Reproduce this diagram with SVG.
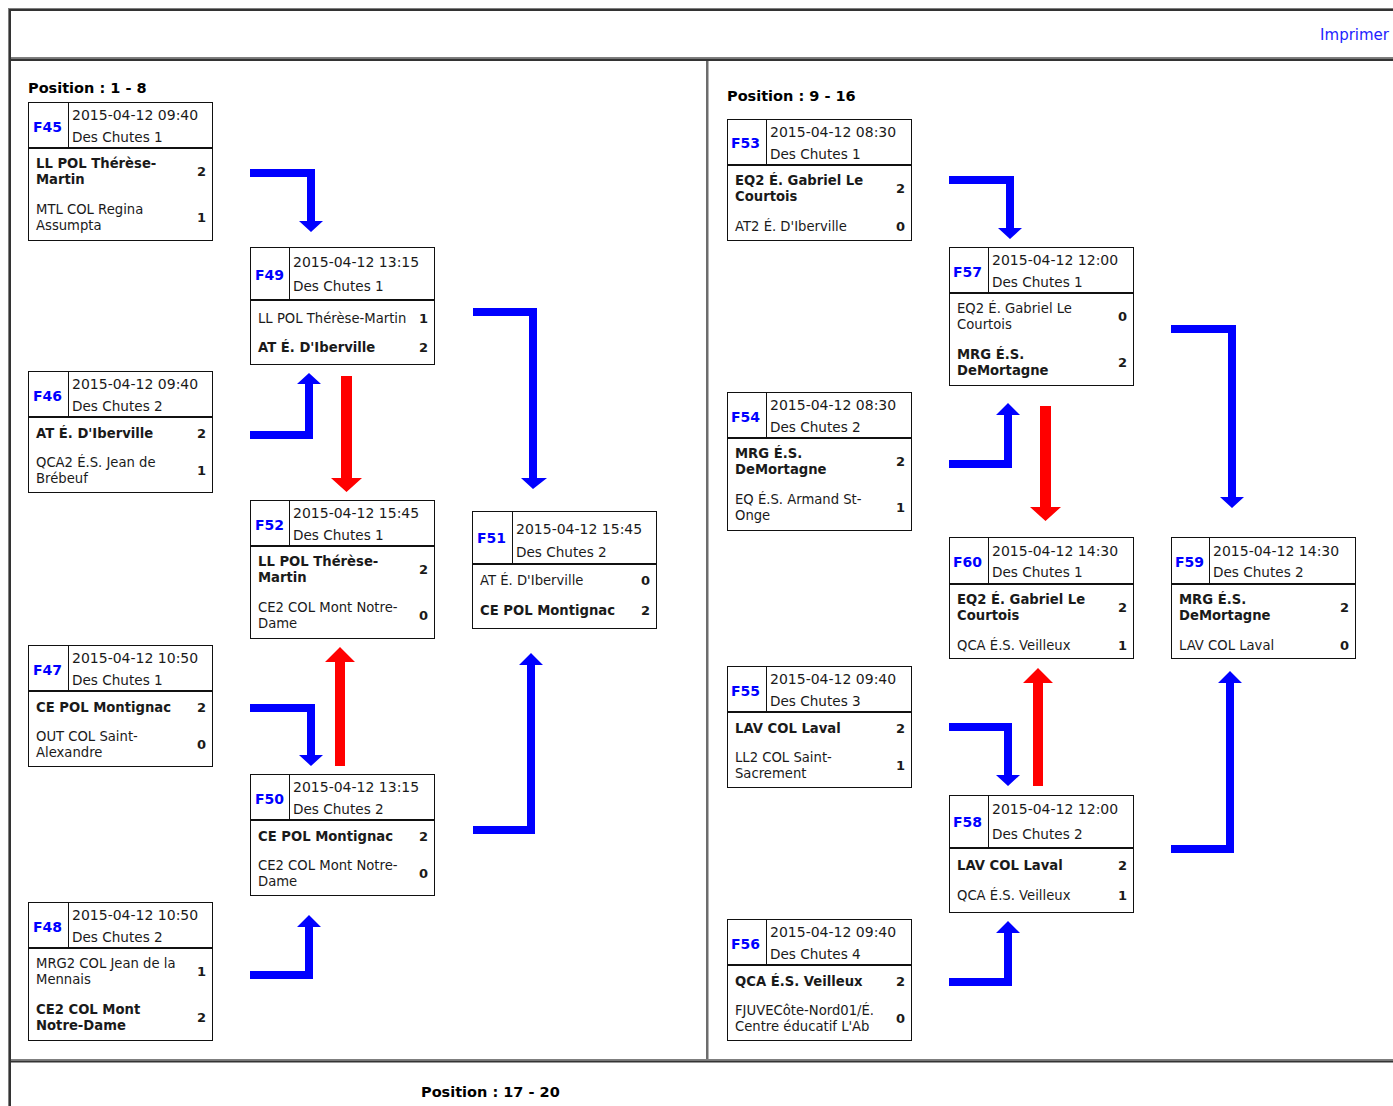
<svg xmlns="http://www.w3.org/2000/svg" width="1393" height="1106" viewBox="0 0 1393 1106">
<style>
text{font-family:Verdana,"DejaVu Sans",sans-serif;fill:#1a1a1a}
.hd{font-size:14px}
.hv{font-size:13.6px}
.tm{font-size:13.2px}
.b{font-weight:bold}
.sc{font-size:13px;font-weight:bold;text-anchor:end}
.id{font-size:14px;font-weight:bold;fill:#0000ff}
.pos{font-size:14.5px;font-weight:bold;fill:#000}
.bx{fill:#fff;stroke:#111;stroke-width:1}
.ln{stroke:#111;stroke-width:1}
.dv{stroke:#111;stroke-width:2}
.blue{fill:#0000ff}
.red{fill:#ff0000}
.g{fill:#7f7f7f}
.d{fill:#333}
</style>
<rect width="1393" height="1106" fill="#fff"/>
<g id="frame">
<rect class="g" x="8" y="8" width="1385" height="1"/>
<rect class="d" x="8" y="9" width="1385" height="2"/>
<rect class="g" x="8" y="8" width="1" height="1098"/>
<rect class="d" x="9" y="9" width="2" height="1097"/>
<rect class="g" x="11" y="57" width="1382" height="1.5"/>
<rect class="d" x="11" y="58.5" width="1382" height="2.5"/>
<rect fill="#6d6d6d" x="706" y="61" width="2.5" height="999"/>
<rect class="g" x="11" y="1059" width="1382" height="1.5"/>
<rect class="d" x="11" y="1060.5" width="1382" height="2"/>
<text x="1389" y="40" style="font-size:15px;fill:#2323ff;text-anchor:end">Imprimer</text>
<text class="pos" x="28" y="93">Position : 1 - 8</text>
<text class="pos" x="727" y="101">Position : 9 - 16</text>
<text class="pos" x="421" y="1097">Position : 17 - 20</text>
</g>
<g id="connectors">
<polygon class="blue" points="250,169 315,169 315,221 323,221 311,232 299,221 307,221 307,177 250,177"/>
<polygon class="blue" points="250,439 313,439 313,384 321,384 309,373 297,384 305,384 305,431 250,431"/>
<polygon class="red" points="341,376 352,376 352,478 362,478 346.5,492 331,478 341,478"/>
<polygon class="blue" points="250,704 315,704 315,755 323,755 311,766 299,755 307,755 307,712 250,712"/>
<polygon class="red" points="335,766 345,766 345,662 355,662 340,647 325,662 335,662"/>
<polygon class="blue" points="250,979 313,979 313,927 321,927 309,915 297,927 305,927 305,971 250,971"/>
<polygon class="blue" points="473,308 537,308 537,478 547,478 533,489 521,478 529,478 529,316 473,316"/>
<polygon class="blue" points="473,834 535,834 535,665 543,665 531,653 519,665 527,665 527,826 473,826"/>
<polygon class="blue" points="949,176 1014,176 1014,228 1022,228 1010,239 998,228 1006,228 1006,184 949,184"/>
<polygon class="blue" points="949,468 1012,468 1012,415 1020,415 1008,403 996,415 1004,415 1004,460 949,460"/>
<polygon class="red" points="1040,406 1051,406 1051,507 1061,507 1045.5,521 1030,507 1040,507"/>
<polygon class="blue" points="949,723 1012,723 1012,775 1020,775 1008,786 996,775 1004,775 1004,731 949,731"/>
<polygon class="red" points="1033,786 1043,786 1043,683 1053,683 1038,668 1023,683 1033,683"/>
<polygon class="blue" points="949,986 1012,986 1012,933 1020,933 1008,921 996,933 1004,933 1004,978 949,978"/>
<polygon class="blue" points="1171,325 1236,325 1236,497 1244,497 1232,508 1220,497 1228,497 1228,333 1171,333"/>
<polygon class="blue" points="1171,853 1234,853 1234,683 1242,683 1230,671 1218,683 1226,683 1226,845 1171,845"/>
</g>

<g id="F45">
<rect class="bx" x="28.5" y="102.5" width="184" height="138"/>
<line class="ln" x1="68.5" y1="102.5" x2="68.5" y2="148"/>
<line class="dv" x1="28.5" y1="148" x2="212.5" y2="148"/>
<text class="id" x="33" y="132">F45</text>
<text class="hd" x="72" y="120">2015-04-12 09:40</text>
<text class="hv" x="72" y="142">Des Chutes 1</text>
<text class="tm b" x="36" y="168">LL POL Thérèse-</text>
<text class="tm b" x="36" y="184">Martin</text>
<text class="sc" x="206" y="176">2</text>
<text class="tm" x="36" y="214">MTL COL Regina</text>
<text class="tm" x="36" y="230">Assumpta</text>
<text class="sc" x="206" y="222">1</text>
</g>
<g id="F46">
<rect class="bx" x="28.5" y="371.5" width="184" height="121"/>
<line class="ln" x1="68.5" y1="371.5" x2="68.5" y2="417"/>
<line class="dv" x1="28.5" y1="417" x2="212.5" y2="417"/>
<text class="id" x="33" y="401">F46</text>
<text class="hd" x="72" y="389">2015-04-12 09:40</text>
<text class="hv" x="72" y="411">Des Chutes 2</text>
<text class="tm b" x="36" y="438">AT É. D'Iberville</text>
<text class="sc" x="206" y="438">2</text>
<text class="tm" x="36" y="467">QCA2 É.S. Jean de</text>
<text class="tm" x="36" y="483">Brébeuf</text>
<text class="sc" x="206" y="475">1</text>
</g>
<g id="F47">
<rect class="bx" x="28.5" y="645.5" width="184" height="121"/>
<line class="ln" x1="68.5" y1="645.5" x2="68.5" y2="691"/>
<line class="dv" x1="28.5" y1="691" x2="212.5" y2="691"/>
<text class="id" x="33" y="675">F47</text>
<text class="hd" x="72" y="663">2015-04-12 10:50</text>
<text class="hv" x="72" y="685">Des Chutes 1</text>
<text class="tm b" x="36" y="712">CE POL Montignac</text>
<text class="sc" x="206" y="712">2</text>
<text class="tm" x="36" y="741">OUT COL Saint-</text>
<text class="tm" x="36" y="757">Alexandre</text>
<text class="sc" x="206" y="749">0</text>
</g>
<g id="F48">
<rect class="bx" x="28.5" y="902.5" width="184" height="138"/>
<line class="ln" x1="68.5" y1="902.5" x2="68.5" y2="948"/>
<line class="dv" x1="28.5" y1="948" x2="212.5" y2="948"/>
<text class="id" x="33" y="932">F48</text>
<text class="hd" x="72" y="920">2015-04-12 10:50</text>
<text class="hv" x="72" y="942">Des Chutes 2</text>
<text class="tm" x="36" y="968">MRG2 COL Jean de la</text>
<text class="tm" x="36" y="984">Mennais</text>
<text class="sc" x="206" y="976">1</text>
<text class="tm b" x="36" y="1014">CE2 COL Mont</text>
<text class="tm b" x="36" y="1030">Notre-Dame</text>
<text class="sc" x="206" y="1022">2</text>
</g>

<g id="F49">
<rect class="bx" x="250.5" y="247.5" width="184" height="117"/>
<line class="ln" x1="289.5" y1="247.5" x2="289.5" y2="300"/>
<line class="dv" x1="250.5" y1="300" x2="434.5" y2="300"/>
<text class="id" x="255" y="280">F49</text>
<text class="hd" x="293" y="267">2015-04-12 13:15</text>
<text class="hv" x="293" y="291">Des Chutes 1</text>
<text class="tm" x="258" y="323">LL POL Thérèse-Martin</text>
<text class="sc" x="428" y="323">1</text>
<text class="tm b" x="258" y="352">AT É. D'Iberville</text>
<text class="sc" x="428" y="352">2</text>
</g>
<g id="F52">
<rect class="bx" x="250.5" y="500.5" width="184" height="138"/>
<line class="ln" x1="289.5" y1="500.5" x2="289.5" y2="546"/>
<line class="dv" x1="250.5" y1="546" x2="434.5" y2="546"/>
<text class="id" x="255" y="530">F52</text>
<text class="hd" x="293" y="518">2015-04-12 15:45</text>
<text class="hv" x="293" y="540">Des Chutes 1</text>
<text class="tm b" x="258" y="566">LL POL Thérèse-</text>
<text class="tm b" x="258" y="582">Martin</text>
<text class="sc" x="428" y="574">2</text>
<text class="tm" x="258" y="612">CE2 COL Mont Notre-</text>
<text class="tm" x="258" y="628">Dame</text>
<text class="sc" x="428" y="620">0</text>
</g>
<g id="F50">
<rect class="bx" x="250.5" y="774.5" width="184" height="121"/>
<line class="ln" x1="289.5" y1="774.5" x2="289.5" y2="820"/>
<line class="dv" x1="250.5" y1="820" x2="434.5" y2="820"/>
<text class="id" x="255" y="804">F50</text>
<text class="hd" x="293" y="792">2015-04-12 13:15</text>
<text class="hv" x="293" y="814">Des Chutes 2</text>
<text class="tm b" x="258" y="841">CE POL Montignac</text>
<text class="sc" x="428" y="841">2</text>
<text class="tm" x="258" y="870">CE2 COL Mont Notre-</text>
<text class="tm" x="258" y="886">Dame</text>
<text class="sc" x="428" y="878">0</text>
</g>
<g id="F51">
<rect class="bx" x="472.5" y="511.5" width="184" height="117"/>
<line class="ln" x1="512.5" y1="511.5" x2="512.5" y2="564"/>
<line class="dv" x1="472.5" y1="564" x2="656.5" y2="564"/>
<text class="id" x="477" y="543">F51</text>
<text class="hd" x="516" y="534">2015-04-12 15:45</text>
<text class="hv" x="516" y="557">Des Chutes 2</text>
<text class="tm" x="480" y="585">AT É. D'Iberville</text>
<text class="sc" x="650" y="585">0</text>
<text class="tm b" x="480" y="615">CE POL Montignac</text>
<text class="sc" x="650" y="615">2</text>
</g>

<g id="F53">
<rect class="bx" x="727.5" y="119.5" width="184" height="121"/>
<line class="ln" x1="766.5" y1="119.5" x2="766.5" y2="165"/>
<line class="dv" x1="727.5" y1="165" x2="911.5" y2="165"/>
<text class="id" x="731" y="148">F53</text>
<text class="hd" x="770" y="137">2015-04-12 08:30</text>
<text class="hv" x="770" y="159">Des Chutes 1</text>
<text class="tm b" x="735" y="185">EQ2 É. Gabriel Le</text>
<text class="tm b" x="735" y="201">Courtois</text>
<text class="sc" x="905" y="193">2</text>
<text class="tm" x="735" y="231">AT2 É. D'Iberville</text>
<text class="sc" x="905" y="231">0</text>
</g>
<g id="F54">
<rect class="bx" x="727.5" y="392.5" width="184" height="138"/>
<line class="ln" x1="766.5" y1="392.5" x2="766.5" y2="438"/>
<line class="dv" x1="727.5" y1="438" x2="911.5" y2="438"/>
<text class="id" x="731" y="422">F54</text>
<text class="hd" x="770" y="410">2015-04-12 08:30</text>
<text class="hv" x="770" y="432">Des Chutes 2</text>
<text class="tm b" x="735" y="458">MRG É.S.</text>
<text class="tm b" x="735" y="474">DeMortagne</text>
<text class="sc" x="905" y="466">2</text>
<text class="tm" x="735" y="504">EQ É.S. Armand St-</text>
<text class="tm" x="735" y="520">Onge</text>
<text class="sc" x="905" y="512">1</text>
</g>
<g id="F55">
<rect class="bx" x="727.5" y="666.5" width="184" height="121"/>
<line class="ln" x1="766.5" y1="666.5" x2="766.5" y2="712"/>
<line class="dv" x1="727.5" y1="712" x2="911.5" y2="712"/>
<text class="id" x="731" y="696">F55</text>
<text class="hd" x="770" y="684">2015-04-12 09:40</text>
<text class="hv" x="770" y="706">Des Chutes 3</text>
<text class="tm b" x="735" y="733">LAV COL Laval</text>
<text class="sc" x="905" y="733">2</text>
<text class="tm" x="735" y="762">LL2 COL Saint-</text>
<text class="tm" x="735" y="778">Sacrement</text>
<text class="sc" x="905" y="770">1</text>
</g>
<g id="F56">
<rect class="bx" x="727.5" y="919.5" width="184" height="121"/>
<line class="ln" x1="766.5" y1="919.5" x2="766.5" y2="965"/>
<line class="dv" x1="727.5" y1="965" x2="911.5" y2="965"/>
<text class="id" x="731" y="949">F56</text>
<text class="hd" x="770" y="937">2015-04-12 09:40</text>
<text class="hv" x="770" y="959">Des Chutes 4</text>
<text class="tm b" x="735" y="986">QCA É.S. Veilleux</text>
<text class="sc" x="905" y="986">2</text>
<text class="tm" x="735" y="1015">FJUVECôte-Nord01/É.</text>
<text class="tm" x="735" y="1031">Centre éducatif L'Ab</text>
<text class="sc" x="905" y="1023">0</text>
</g>

<g id="F57">
<rect class="bx" x="949.5" y="247.5" width="184" height="138"/>
<line class="ln" x1="988.5" y1="247.5" x2="988.5" y2="293"/>
<line class="dv" x1="949.5" y1="293" x2="1133.5" y2="293"/>
<text class="id" x="953" y="277">F57</text>
<text class="hd" x="992" y="265">2015-04-12 12:00</text>
<text class="hv" x="992" y="287">Des Chutes 1</text>
<text class="tm" x="957" y="313">EQ2 É. Gabriel Le</text>
<text class="tm" x="957" y="329">Courtois</text>
<text class="sc" x="1127" y="321">0</text>
<text class="tm b" x="957" y="359">MRG É.S.</text>
<text class="tm b" x="957" y="375">DeMortagne</text>
<text class="sc" x="1127" y="367">2</text>
</g>
<g id="F60">
<rect class="bx" x="949.5" y="537.5" width="184" height="121"/>
<line class="ln" x1="988.5" y1="537.5" x2="988.5" y2="584"/>
<line class="dv" x1="949.5" y1="584" x2="1133.5" y2="584"/>
<text class="id" x="953" y="567">F60</text>
<text class="hd" x="992" y="556">2015-04-12 14:30</text>
<text class="hv" x="992" y="577">Des Chutes 1</text>
<text class="tm b" x="957" y="604">EQ2 É. Gabriel Le</text>
<text class="tm b" x="957" y="620">Courtois</text>
<text class="sc" x="1127" y="612">2</text>
<text class="tm" x="957" y="650">QCA É.S. Veilleux</text>
<text class="sc" x="1127" y="650">1</text>
</g>
<g id="F58">
<rect class="bx" x="949.5" y="795.5" width="184" height="117"/>
<line class="ln" x1="988.5" y1="795.5" x2="988.5" y2="848"/>
<line class="dv" x1="949.5" y1="848" x2="1133.5" y2="848"/>
<text class="id" x="953" y="827">F58</text>
<text class="hd" x="992" y="814">2015-04-12 12:00</text>
<text class="hv" x="992" y="839">Des Chutes 2</text>
<text class="tm b" x="957" y="870">LAV COL Laval</text>
<text class="sc" x="1127" y="870">2</text>
<text class="tm" x="957" y="900">QCA É.S. Veilleux</text>
<text class="sc" x="1127" y="900">1</text>
</g>
<g id="F59">
<rect class="bx" x="1171.5" y="537.5" width="184" height="121"/>
<line class="ln" x1="1209.5" y1="537.5" x2="1209.5" y2="584"/>
<line class="dv" x1="1171.5" y1="584" x2="1355.5" y2="584"/>
<text class="id" x="1175" y="567">F59</text>
<text class="hd" x="1213" y="556">2015-04-12 14:30</text>
<text class="hv" x="1213" y="577">Des Chutes 2</text>
<text class="tm b" x="1179" y="604">MRG É.S.</text>
<text class="tm b" x="1179" y="620">DeMortagne</text>
<text class="sc" x="1349" y="612">2</text>
<text class="tm" x="1179" y="650">LAV COL Laval</text>
<text class="sc" x="1349" y="650">0</text>
</g>
</svg>
